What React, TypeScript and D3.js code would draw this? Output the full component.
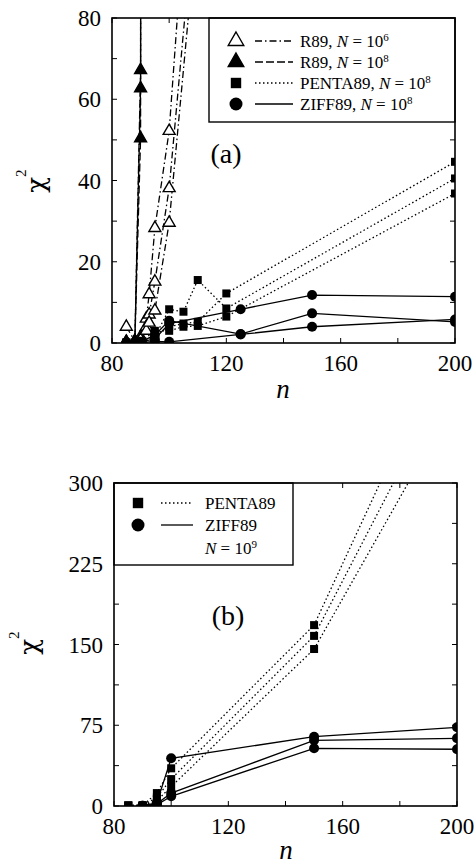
import React from "react";
import * as d3 from "d3";

// ---- panel (a) data ----
const nR89N6 = [85, 88, 90, 92, 93, 95, 100, 110];
const r89N6 = [
  [4.0, 0.5, 1.5, 6, 12, 28.3, 52.2, 150],
  [0.3, 0.2, 1.0, 4, 7, 15.1, 38.1, 115],
  [0.2, 0.1, 0.8, 3, 5, 8.0, 29.6, 105],
];
const nR89N8 = [85, 88, 90, 92];
const r89N8 = [
  [0.1, 0.5, 67.2, 3000],
  [0.1, 0.4, 62.7, 2500],
  [0.1, 0.3, 50.4, 2000],
];
const nPentaA = [85, 90, 95, 100, 105, 110, 120, 200];
const pentaA = [
  [0.1, 0.2, 1.5, 8.3, 7.7, 15.5, 8.5, 40.5],
  [0.1, 0.1, 2.0, 4.0, 4.8, 5.2, 12.2, 44.6],
  [0.1, 0.3, 3.0, 3.0, 4.0, 4.2, 6.5, 36.8],
];
const nZiffA = [85, 90, 95, 100, 125, 150, 200];
const ziffA = [
  [0, 0.3, 1.0, 4.8, 8.3, 11.8, 11.4],
  [0, 0.2, 2.0, 5.5, 2.2, 7.3, 5.2],
  [0, 0.1, 0.4, 0.3, 2.1, 4.0, 5.8],
];

// ---- panel (b) data, N = 10^9 ----
const nPentaB = [85, 90, 95, 100, 150, 200];
const pentaB = [
  [0.5, 0.5, 12, 35, 168, 454],
  [0.5, 0.5, 8, 25, 158, 414],
  [0.5, 0.5, 5, 18, 145.8, 380],
];
const nZiffB = [90, 95, 100, 150, 200];
const ziffB = [
  [0.3, 3, 44.3, 64.4, 73.1],
  [0.2, 2, 12, 61, 62.9],
  [0.1, 1, 9, 53.6, 52.7],
];

const xTicks = [80, 120, 160, 200];
const xMinor = [100, 140, 180];
const yTicksA = [0, 20, 40, 60, 80];
const yMinorA = [10, 30, 50, 70];
const yTicksB = [0, 75, 150, 225, 300];
const yMinorB = [37.5, 112.5, 187.5, 262.5];

const FONT = "'Liberation Serif', 'Times New Roman', serif";

const STYLE = {
  r6: { marker: "triOpen", dash: "7,3,1.5,3" },
  r8: { marker: "triFill", dash: "8,3" },
  penta: { marker: "square", dash: "1.5,2.5" },
  ziff: { marker: "circle", dash: null },
};

function Marker({ kind, x, y, big }) {
  const s = big ? 1.3 : 1;
  if (kind === "circle") return <circle cx={x} cy={y} r={5 * s} fill="#000" />;
  if (kind === "square") {
    const h = 4 * s;
    return <rect x={x - h} y={y - h} width={2 * h} height={2 * h} fill="#000" />;
  }
  const p = d3.symbol().type(d3.symbolTriangle).size(62 * s * s)();
  const open = kind === "triOpen";
  return (
    <path
      d={p}
      transform={`translate(${x},${y})`}
      fill={open ? "#fff" : "#000"}
      stroke="#000"
      strokeWidth={1.4}
    />
  );
}

function Panel({ id, xr, yr, yMax, yTicks, yMinor, series, tag, tagPos, titlePos, nPos, legend }) {
  const x = d3.scaleLinear().domain([80, 200]).range(xr);
  const y = d3.scaleLinear().domain([0, yMax]).range(yr);
  const line = d3
    .line()
    .x((d) => x(d[0]))
    .y((d) => y(d[1]));
  const [L, R] = xr;
  const [B, T] = yr;
  const tk = 5;

  return (
    <g fontFamily={FONT}>
      <defs>
        <clipPath id={id}>
          <rect x={L} y={T} width={R - L} height={B - T} />
        </clipPath>
      </defs>
      <g clipPath={`url(#${id})`}>
        {series.map((s, i) =>
          s.runs.map((run, j) => (
            <path
              key={`l${i}-${j}`}
              d={line(run.map((v, k) => [s.n[k], v]))}
              fill="none"
              stroke="#000"
              strokeWidth={1.3}
              strokeDasharray={s.style.dash || undefined}
              strokeDashoffset={j * 4}
            />
          ))
        )}
        {series.map((s, i) =>
          s.runs.map((run, j) =>
            run.map((v, k) =>
              v <= yMax ? (
                <Marker key={`m${i}-${j}-${k}`} kind={s.style.marker} x={x(s.n[k])} y={y(v)} />
              ) : null
            )
          )
        )}
      </g>

      {/* ticks, inward on all four sides */}
      {[...xTicks, ...xMinor].map((t) => (
        <g key={`xt${t}`} stroke="#000" strokeWidth={1}>
          <line x1={x(t)} x2={x(t)} y1={B} y2={B - tk} />
          <line x1={x(t)} x2={x(t)} y1={T} y2={T + tk} />
        </g>
      ))}
      {[...yTicks, ...yMinor].map((t) => (
        <g key={`yt${t}`} stroke="#000" strokeWidth={1}>
          <line x1={L} x2={L + tk} y1={y(t)} y2={y(t)} />
          <line x1={R} x2={R - tk} y1={y(t)} y2={y(t)} />
        </g>
      ))}

      {legend}

      <rect x={L} y={T} width={R - L} height={B - T} fill="none" stroke="#000" strokeWidth={1.6} />

      {xTicks.map((t) => (
        <text key={`xl${t}`} x={x(t)} y={B + 28} fontSize={23} textAnchor="middle">
          {t}
        </text>
      ))}
      {yTicks.map((t) => (
        <text key={`yl${t}`} x={L - 11} y={y(t) + 8} fontSize={23} textAnchor="end">
          {t}
        </text>
      ))}

      <text x={tagPos[0]} y={tagPos[1]} fontSize={28} textAnchor="middle">
        {tag}
      </text>
      <text x={nPos[0]} y={nPos[1]} fontSize={27} fontStyle="italic" textAnchor="middle">
        n
      </text>
      <text
        transform={`translate(${titlePos[0]},${titlePos[1]}) rotate(-90)`}
        textAnchor="middle"
      >
        <tspan fontSize={26} fontFamily="'DejaVu Serif', serif">
          χ
        </tspan>
        <tspan fontSize={15} dy={-19}>
          2
        </tspan>
      </text>
    </g>
  );
}

function LegendRow({ kind, dash, sx, lx0, lx1, tx, yy, children }) {
  return (
    <g>
      <Marker kind={kind} x={sx} y={yy} big />
      <line x1={lx0} x2={lx1} y1={yy} y2={yy} stroke="#000" strokeWidth={1.3} strokeDasharray={dash || undefined} />
      <text x={tx} y={yy + 6} fontSize={17}>
        {children}
      </text>
    </g>
  );
}

function Pow({ label, exp }) {
  return (
    <>
      {label}
      <tspan fontStyle="italic">N</tspan> = 10
      <tspan dy={-6} fontSize={11}>
        {exp}
      </tspan>
    </>
  );
}

export default function App() {
  const seriesA = [
    { n: nR89N6, runs: r89N6, style: STYLE.r6 },
    { n: nR89N8, runs: r89N8, style: STYLE.r8 },
    { n: nPentaA, runs: pentaA, style: STYLE.penta },
    { n: nZiffA, runs: ziffA, style: STYLE.ziff },
  ];
  const seriesB = [
    { n: nPentaB, runs: pentaB, style: STYLE.penta },
    { n: nZiffB, runs: ziffB, style: STYLE.ziff },
  ];

  const legendA = (
    <g fontFamily={FONT}>
      <rect x={209} y={18} width={246} height={104} fill="#fff" stroke="#000" strokeWidth={1.4} />
      {[
        { k: "triOpen", d: STYLE.r6.dash, c: <Pow label="R89, " exp="6" /> },
        { k: "triFill", d: STYLE.r8.dash, c: <Pow label="R89, " exp="8" /> },
        { k: "square", d: STYLE.penta.dash, c: <Pow label="PENTA89, " exp="8" /> },
        { k: "circle", d: null, c: <Pow label="ZIFF89, " exp="8" /> },
      ].map((r, i) => (
        <LegendRow key={i} kind={r.k} dash={r.d} sx={236} lx0={255} lx1={293} tx={300} yy={41 + i * 21}>
          {r.c}
        </LegendRow>
      ))}
    </g>
  );

  const legendB = (
    <g fontFamily={FONT}>
      <rect x={114} y={483} width={179} height={82} fill="#fff" stroke="#000" strokeWidth={1.4} />
      <LegendRow kind="square" dash={STYLE.penta.dash} sx={138} lx0={161} lx1={193} tx={205} yy={503}>
        PENTA89
      </LegendRow>
      <LegendRow kind="circle" dash={null} sx={138} lx0={161} lx1={193} tx={205} yy={525}>
        ZIFF89
      </LegendRow>
      <text x={205} y={554} fontSize={17}>
        <tspan fontStyle="italic">N</tspan> = 10
        <tspan dy={-6} fontSize={11}>
          9
        </tspan>
      </text>
    </g>
  );

  return (
    <svg
      width={475}
      height={866}
      style={{ position: "absolute", left: 0, top: 0, background: "#fff" }}
    >
      <Panel
        id="clipA"
        xr={[112, 455]}
        yr={[343, 18]}
        yMax={80}
        yTicks={yTicksA}
        yMinor={yMinorA}
        series={seriesA}
        tag="(a)"
        tagPos={[226, 163]}
        titlePos={[45, 181]}
        nPos={[283, 398]}
        legend={legendA}
      />
      <Panel
        id="clipB"
        xr={[114, 457]}
        yr={[806, 483]}
        yMax={300}
        yTicks={yTicksB}
        yMinor={yMinorB}
        series={seriesB}
        tag="(b)"
        tagPos={[228, 625]}
        titlePos={[38, 643]}
        nPos={[286, 859]}
        legend={legendB}
      />
    </svg>
  );
}
